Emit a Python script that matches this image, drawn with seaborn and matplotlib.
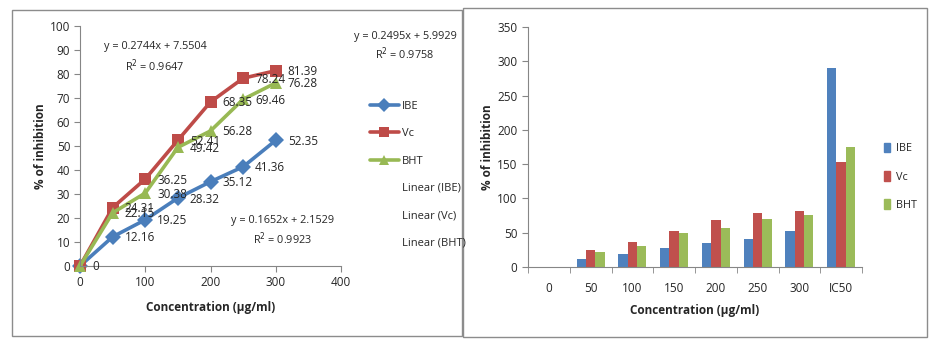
import matplotlib
matplotlib.use("Agg")
import matplotlib.pyplot as plt
import seaborn as sns
import pandas as pd
import numpy as np
from matplotlib.patches import Rectangle
from matplotlib.lines import Line2D

sns.set_style("white")
plt.rcParams['font.family'] = ['Open Sans', 'DejaVu Sans']

conc = [0, 50, 100, 150, 200, 250, 300]
ibe = [0, 12.16, 19.25, 28.32, 35.12, 41.36, 52.35]
vc = [0, 24.31, 36.25, 52.41, 68.35, 78.24, 81.39]
bht = [0, 22.15, 30.38, 49.42, 56.28, 69.46, 76.28]
bar_cats = ['0', '50', '100', '150', '200', '250', '300', 'IC50']
ic50 = {'IBE': 290, 'Vc': 153, 'BHT': 175}
series_names = ['IBE', 'Vc', 'BHT']
eq_texts = [("y = 0.2744x + 7.5504", "R$^2$ = 0.9647"),
            ("y = 0.2495x + 5.9929", "R$^2$ = 0.9758"),
            ("y = 0.1652x + 2.1529", "R$^2$ = 0.9923")]

line_colors = {'IBE': '#4A7EBB', 'Vc': '#BE4B48', 'BHT': '#98B954'}
bar_colors = {'IBE': '#4F81BD', 'Vc': '#C0504D', 'BHT': '#9BBB59'}
markers = {'IBE': 'D', 'Vc': 's', 'BHT': '^'}

df = pd.DataFrame({
    'conc': conc * 3,
    'val': ibe + vc + bht,
    'series': ['IBE'] * 7 + ['Vc'] * 7 + ['BHT'] * 7,
})

fig = plt.figure(figsize=(9.42, 3.5), dpi=100)

# panel borders
for (x0, y0, x1, y1) in [(12, 10, 462, 336), (463, 8, 927, 337)]:
    fig.patches.append(Rectangle((x0 / 942, 1 - y1 / 350), (x1 - x0) / 942, (y1 - y0) / 350,
                                 transform=fig.transFigure, fill=False,
                                 edgecolor='#8C8C8C', lw=1.0))

axis_grey = '#868686'
txt_col = '#262626'

# ---------------- left: line chart ----------------
ax1 = fig.add_axes([80 / 942, 1 - 266 / 350, (341 - 80) / 942, (266 - 26) / 350])
sns.lineplot(data=df, x='conc', y='val', hue='series', style='series',
             palette=line_colors, markers=markers, dashes=False, ax=ax1,
             lw=2.6, markersize=8, markeredgewidth=0, legend=False)
ax1.set_xlim(0, 400)
ax1.set_ylim(0, 100)
ax1.set_xticks(range(0, 401, 100))
ax1.set_yticks(range(0, 101, 10))
for s in ['top', 'right']:
    ax1.spines[s].set_visible(False)
for s in ['left', 'bottom']:
    ax1.spines[s].set_color(axis_grey)
ax1.tick_params(axis='both', direction='out', length=4, color=axis_grey,
                labelsize=8.5, labelcolor=txt_col, pad=3, left=True, bottom=True)
ax1.set_xlabel('Concentration (µg/ml)', fontsize=8.5, fontweight='bold', color=txt_col, labelpad=9)
ax1.set_ylabel('% of inhibition', fontsize=8.5, fontweight='bold', color=txt_col, labelpad=2)
for ln in ax1.lines:
    ln.set_clip_on(False)

# data labels
for name, vals in zip(series_names, [ibe, vc, bht]):
    for xv, yv in zip(conc, vals):
        if xv == 0:
            continue
        ax1.annotate(f"{yv:.2f}", (xv, yv), xytext=(12, -1), textcoords='offset pixels',
                     ha='left', va='center', fontsize=8.5, color=txt_col)
ax1.annotate("0", (0, 0), xytext=(12, -1), textcoords='offset pixels',
             ha='left', va='center', fontsize=8.5, color=txt_col)

# trendline equations
eq_pos = [(155, 47, 66), (405, 37, 54), (283, 221, 239)]
for (l1, l2), (cx, y1, y2) in zip(eq_texts, eq_pos):
    fig.text(cx / 942, 1 - y1 / 350, l1, ha='center', va='center', fontsize=7.8, color=txt_col)
    fig.text(cx / 942, 1 - y2 / 350, l2, ha='center', va='center', fontsize=7.8, color=txt_col)

# legend (left)
handles = [Line2D([0], [0], color=line_colors[n], marker=markers[n], lw=2.6,
                  markersize=7, markeredgewidth=0) for n in series_names]
handles += [Line2D([0], [0], color='none') for _ in series_names]
labels = series_names + [f"Linear ({n})" for n in series_names]
fig.legend(handles, labels, loc='upper left', bbox_to_anchor=(360 / 942, 1 - 91 / 350),
           frameon=False, fontsize=8, labelspacing=1.47, handlelength=2.6,
           handletextpad=0.3, labelcolor=txt_col)

# ---------------- right: bar chart ----------------
bar_df = pd.DataFrame({
    'cat': bar_cats * 3,
    'val': ibe + [ic50['IBE']] + vc + [ic50['Vc']] + bht + [ic50['BHT']],
    'series': ['IBE'] * 8 + ['Vc'] * 8 + ['BHT'] * 8,
})
ax2 = fig.add_axes([528 / 942, 1 - 267 / 350, (862 - 528) / 942, (267 - 27) / 350])
sns.barplot(data=bar_df, x='cat', y='val', hue='series', order=bar_cats,
            hue_order=series_names, palette=bar_colors, width=0.67, ax=ax2,
            saturation=1, legend=False, linewidth=0)
ax2.set_xlim(-0.5, 7.5)
ax2.set_ylim(0, 350)
ax2.set_yticks(range(0, 351, 50))
for s in ['top', 'right']:
    ax2.spines[s].set_visible(False)
for s in ['left', 'bottom']:
    ax2.spines[s].set_color(axis_grey)
ax2.set_xticks(np.arange(-0.5, 8.0, 1.0), minor=True)
ax2.tick_params(axis='x', which='major', length=0, labelsize=8.5, labelcolor=txt_col, pad=11)
ax2.tick_params(axis='x', which='minor', direction='out', length=4, color=axis_grey, bottom=True)
ax2.tick_params(axis='y', direction='out', length=4, color=axis_grey, labelsize=8.5,
                labelcolor=txt_col, left=True)
ax2.set_xlabel('Concentration (µg/ml)', fontsize=8.5, fontweight='bold', color=txt_col, labelpad=6)
ax2.set_ylabel('% of inhibition', fontsize=8.5, fontweight='bold', color=txt_col, labelpad=2)

bhandles = [Rectangle((0, 0), 1, 1, color=bar_colors[n]) for n in series_names]
fig.legend(bhandles, series_names, loc='upper left', bbox_to_anchor=(874 / 942, 1 - 133 / 350),
           frameon=False, fontsize=7.8, labelspacing=1.55, handlelength=0.6, handleheight=1.0,
           handletextpad=0.5, labelcolor=txt_col)

fig.savefig('out.png', dpi=100, facecolor='white')
